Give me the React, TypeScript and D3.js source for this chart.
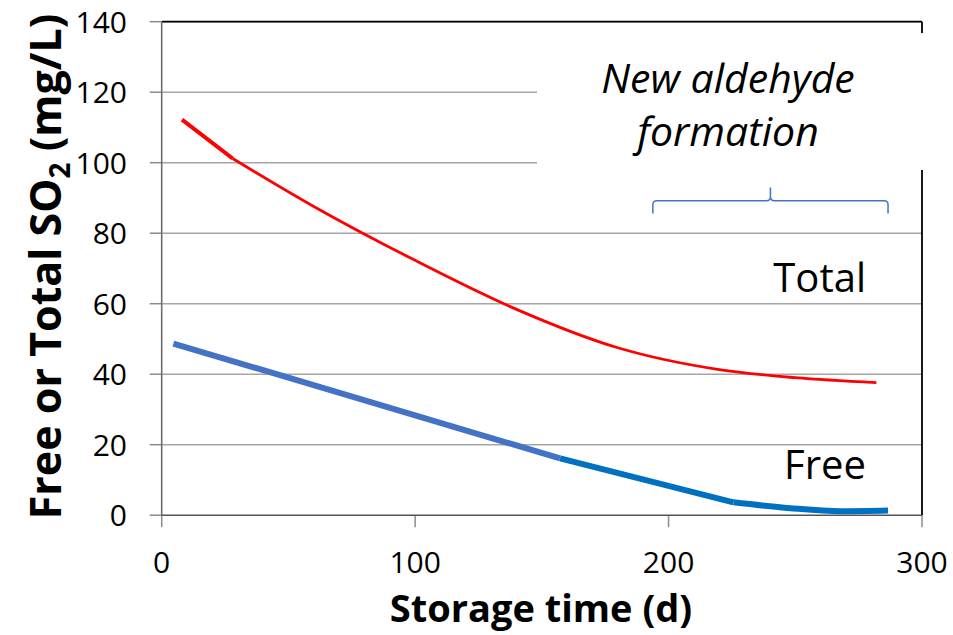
import React from "react";
import * as d3 from "d3";

const yTicks = [0, 20, 40, 60, 80, 100, 120, 140];
const xTicks = [0, 100, 200, 300];

// Total SO2 (mg/L) vs storage time (d)
const totalEarlyDays = [8, 28];
const totalEarlyVals = [112.2, 101.2];
const totalDays = [28, 60, 100, 140, 180, 220, 250, 282];
const totalVals = [101.2, 87.6, 72.3, 58.4, 47.5, 41.3, 39.0, 37.6];

// Free SO2
const freeEarlyDays = [4.6, 157.2];
const freeEarlyVals = [48.7, 16.1];
const freeMidDays = [157.2, 225.6];
const freeMidVals = [16.1, 3.65];
const freeTailDays = [225.6, 248, 268, 286.6];
const freeTailVals = [3.65, 2.0, 1.15, 1.35];

// brace span (days) and level (mg/L)
const braceDays = [193.8, 240.2, 286.6];
const braceVals = [85.6, 89.2, 93];

const W = 953;
const H = 635;
const L = 161.7, R = 922, T = 21.7, B = 515.2;

const FONT = "'Open Sans', 'Noto Sans', sans-serif";

export default function App() {
  const x = d3.scaleLinear().domain([0, 300]).range([L, R]);
  const y = d3.scaleLinear().domain([0, 140]).range([B, T]);

  const zip = (a: number[], b: number[]) => a.map((d, i) => [d, b[i]] as [number, number]);
  const lin = d3.line<[number, number]>().x(d => x(d[0])).y(d => y(d[1]));
  const smooth = d3
    .line<[number, number]>()
    .x(d => x(d[0]))
    .y(d => y(d[1]))
    .curve(d3.curveMonotoneX);

  // curly brace
  const bx0 = x(braceDays[0]), bxm = x(braceDays[1]), bx1 = x(braceDays[2]);
  const byEnd = y(braceVals[0]), byMid = y(braceVals[1]), byTip = y(braceVals[2]);
  const r = 4;
  const bracePath =
    `M${bx0},${byEnd} L${bx0},${byMid + r} Q${bx0},${byMid} ${bx0 + r},${byMid} ` +
    `L${bxm - r},${byMid} Q${bxm},${byMid} ${bxm},${byMid - r} L${bxm},${byTip} ` +
    `M${bxm},${byMid - r} Q${bxm},${byMid} ${bxm + r},${byMid} L${bx1 - r},${byMid} ` +
    `Q${bx1},${byMid} ${bx1},${byMid + r} L${bx1},${byEnd}`;

  return (
    <svg
      width={W}
      height={H}
      style={{ position: "absolute", left: 0, top: 0, background: "#fff" }}
      fontFamily={FONT}
    >
      {/* gridlines */}
      {yTicks.filter(t => t > 0).map(t => (
        <line key={"g" + t} x1={L} x2={R} y1={y(t)} y2={y(t)} stroke="#a6a6a6" strokeWidth={1.5} />
      ))}
      {/* plot border top & right */}
      <line x1={L} x2={R} y1={T} y2={T} stroke="#000" strokeWidth={1.8} />
      <line x1={R} x2={R} y1={T} y2={B} stroke="#000" strokeWidth={1.8} />
      {/* y ticks */}
      {yTicks.map(t => (
        <line key={"yt" + t} x1={L - 12} x2={L} y1={y(t)} y2={y(t)} stroke="#8c8c8c" strokeWidth={1.5} />
      ))}
      {/* x ticks */}
      {xTicks.map(t => (
        <line key={"xt" + t} x1={x(t)} x2={x(t)} y1={B} y2={B + 12} stroke="#8c8c8c" strokeWidth={1.5} />
      ))}
      {/* axes */}
      <line x1={L} x2={L} y1={T} y2={B} stroke="#6e6e6e" strokeWidth={1.6} />
      <line x1={L} x2={R} y1={B} y2={B} stroke="#555" strokeWidth={1.6} />

      {/* text box */}
      <rect x={537} y={33} width={392} height={137} fill="#fff" />
      <text x={728} y={93} fontSize={41} fontStyle="italic" textAnchor="middle" fill="#000">
        New aldehyde
      </text>
      <text x={728} y={146} fontSize={41} fontStyle="italic" textAnchor="middle" fill="#000">
        formation
      </text>

      {/* brace */}
      <path d={bracePath} fill="none" stroke="#4472C4" strokeWidth={1.5} />

      {/* series */}
      <path d={lin(zip(totalEarlyDays, totalEarlyVals)) || ""} fill="none" stroke="#ff0000" strokeWidth={4} />
      <path d={smooth(zip(totalDays, totalVals)) || ""} fill="none" stroke="#ff0000" strokeWidth={2.8} />
      <path d={lin(zip(freeEarlyDays, freeEarlyVals)) || ""} fill="none" stroke="#4472C4" strokeWidth={6} />
      <path d={lin(zip(freeMidDays, freeMidVals)) || ""} fill="none" stroke="#0070C0" strokeWidth={6} />
      <path d={smooth(zip(freeTailDays, freeTailVals)) || ""} fill="none" stroke="#0070C0" strokeWidth={6} />

      {/* labels */}
      <text x={866} y={292} fontSize={40} textAnchor="end" fill="#000">Total</text>
      <text x={866} y={479} fontSize={40} textAnchor="end" fill="#000">Free</text>

      {/* tick labels */}
      {yTicks.map(t => (
        <text key={"yl" + t} x={127} y={y(t)} dy="0.36em" fontSize={30} textAnchor="end" fill="#000">
          {t}
        </text>
      ))}
      {xTicks.map(t => (
        <text key={"xl" + t} x={x(t)} y={573} fontSize={30} textAnchor="middle" fill="#000">
          {t}
        </text>
      ))}

      {/* axis titles */}
      <text x={541} y={622} fontSize={38} fontWeight="bold" textAnchor="middle" fill="#000">
        Storage time (d)
      </text>
      <text
        transform={`translate(61, ${(T + B) / 2 - 2}) rotate(-90)`}
        fontSize={43}
        fontWeight="bold"
        textAnchor="middle"
        fill="#000"
      >
        Free or Total SO<tspan fontSize={28} dy="9">2</tspan>
        <tspan dy="-9"> (mg/L)</tspan>
      </text>
    </svg>
  );
}
